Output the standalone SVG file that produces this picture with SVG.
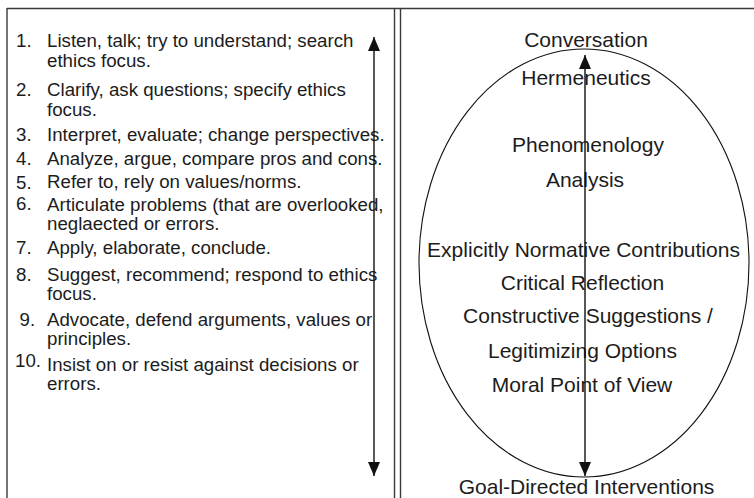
<svg xmlns="http://www.w3.org/2000/svg" width="754" height="498" viewBox="0 0 754 498">
  <defs>
    <style>
      .frame { stroke: #3a3a3a; stroke-width: 1.4; fill: none; }
      .axis { stroke: #111; stroke-width: 1.4; fill: none; }
      .ring { stroke: #111; stroke-width: 1.1; fill: none; }
      .item { font-family: "Liberation Sans", Arial, sans-serif; font-size: 18.7px; fill: #1c1c1c; }
      .stage { font-family: "Liberation Sans", Arial, sans-serif; font-size: 21px; fill: #1c1c1c; text-anchor: middle; }
    </style>
    <marker id="tip" viewBox="0 0 14 12" refX="14" refY="6" markerWidth="14" markerHeight="12" markerUnits="userSpaceOnUse" orient="auto-start-reverse">
      <path d="M0,0 L14,6 L0,12 Z" fill="#111"/>
    </marker>
  </defs>
  <rect width="754" height="498" fill="#fff"/>

  <!-- frame: top rule, left edge, double divider -->
  <g id="frame">
    <line class="frame" x1="7" y1="8.5" x2="754" y2="8.5"/>
    <line class="frame" x1="7" y1="8" x2="7" y2="498"/>
    <line class="frame" x1="394.5" y1="8" x2="394.5" y2="498"/>
    <line class="frame" x1="400.5" y1="8" x2="400.5" y2="498"/>
  </g>

  <!-- numbered list of activities -->
  <g id="activities" class="item">
    <text x="16" y="47">1.</text>
    <text x="47" y="47">Listen, talk; try to understand; search</text>
    <text x="47" y="66.5">ethics focus.</text>
    <text x="16" y="96">2.</text>
    <text x="47" y="96">Clarify, ask questions; specify ethics</text>
    <text x="47" y="116">focus.</text>
    <text x="16" y="141">3.</text>
    <text x="47" y="141">Interpret, evaluate; change perspectives.</text>
    <text x="16" y="165">4.</text>
    <text x="47" y="165">Analyze, argue, compare pros and cons.</text>
    <text x="16" y="189">5.</text>
    <text x="47" y="188">Refer to, rely on values/norms.</text>
    <text x="16" y="210">6.</text>
    <text x="47" y="211">Articulate problems (that are overlooked,</text>
    <text x="47" y="230">neglaected or errors.</text>
    <text x="16" y="254">7.</text>
    <text x="47" y="254">Apply, elaborate, conclude.</text>
    <text x="16" y="281">8.</text>
    <text x="47" y="281">Suggest, recommend; respond to ethics</text>
    <text x="47" y="300">focus.</text>
    <text x="19.5" y="326">9.</text>
    <text x="47" y="326">Advocate, defend arguments, values or</text>
    <text x="47" y="345">principles.</text>
    <text x="15" y="367">10.</text>
    <text x="47" y="371">Insist on or resist against decisions or</text>
    <text x="47" y="390">errors.</text>
  </g>

  <!-- ellipse of approaches -->
  <g id="spectrum">
    <ellipse class="ring" cx="584" cy="263" rx="165" ry="214"/>
  </g>

  <g id="stages" class="stage">
    <text x="586" y="46.5">Conversation</text>
    <text x="586" y="85">Hermeneutics</text>
    <text x="588" y="152">Phenomenology</text>
    <text x="585" y="187">Analysis</text>
    <text x="583.5" y="257">Explicitly Normative Contributions</text>
    <text x="582.5" y="290">Critical Reflection</text>
    <text x="588" y="323">Constructive Suggestions /</text>
    <text x="582.5" y="358">Legitimizing Options</text>
    <text x="582" y="392">Moral Point of View</text>
    <text x="586.5" y="494">Goal-Directed Interventions</text>
  </g>

  <!-- two-headed arrows -->
  <g id="connectors">
    <line class="axis" x1="374" y1="37" x2="374" y2="476" marker-start="url(#tip)" marker-end="url(#tip)"/>
    <line class="axis" x1="585" y1="55" x2="585" y2="476" marker-start="url(#tip)" marker-end="url(#tip)"/>
  </g>
</svg>
